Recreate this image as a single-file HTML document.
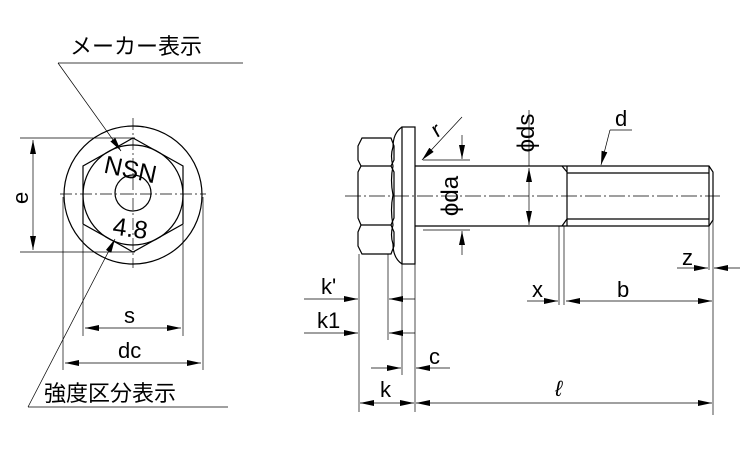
<!DOCTYPE html>
<html><head><meta charset="utf-8"><style>html,body{margin:0;padding:0;background:#fff}svg{display:block}</style></head>
<body>
<svg width="750" height="450" viewBox="0 0 750 450" xmlns="http://www.w3.org/2000/svg" font-family="Liberation Sans, Noto Sans CJK JP, sans-serif">
<defs>
<marker id="b" viewBox="0 0 14 6" refX="14" refY="3" markerWidth="14" markerHeight="6" orient="auto-start-reverse" markerUnits="userSpaceOnUse"><path d="M0,0 L14,3 L0,6z" fill="#000"/></marker>
</defs>
<g stroke="#000" fill="none" stroke-width="1.2">
<circle cx="133" cy="195" r="69"/>
<polygon points="133,138 183,166 183,224 133,252 83,224 83,166"/>
<circle cx="133" cy="195" r="50"/>
<circle cx="133" cy="193" r="18"/>
</g>
<g stroke="#000" stroke-width="0.7" fill="none">
<line x1="60" y1="194" x2="206" y2="194" stroke-dasharray="12,3,2,3"/>
<line x1="133" y1="118" x2="133" y2="268" stroke-dasharray="12,3,2,3"/>
<line x1="20" y1="138" x2="135" y2="138"/>
<line x1="20" y1="252" x2="135" y2="252"/>
<line x1="33" y1="140" x2="33" y2="250" marker-start="url(#b)" marker-end="url(#b)"/>
<line x1="83" y1="225" x2="83" y2="336"/>
<line x1="183" y1="225" x2="183" y2="336"/>
<line x1="85" y1="328" x2="181" y2="328" marker-start="url(#b)" marker-end="url(#b)"/>
<line x1="63" y1="197" x2="63" y2="370"/>
<line x1="203" y1="197" x2="203" y2="370"/>
<line x1="65" y1="363" x2="201" y2="363" marker-start="url(#b)" marker-end="url(#b)"/>
<line x1="58" y1="63" x2="243" y2="63"/>
<line x1="58" y1="63" x2="121" y2="151" marker-end="url(#b)"/>
<line x1="28" y1="407" x2="228" y2="407"/>
<line x1="28" y1="407" x2="115" y2="239" marker-end="url(#b)"/>
</g>
<g font-size="22" fill="#000">
<text x="70" y="54">メーカー表示</text>
<text x="44" y="401">強度区分表示</text>
<text x="104" y="178" font-size="25" transform="rotate(12 130 170)">NSN</text>
<text x="113" y="237" font-size="25" transform="rotate(8 132 228)">4.8</text>
<text x="12" y="204" transform="rotate(-90 20 196)">e</text>
<text x="124" y="323">s</text>
<text x="118" y="358">dc</text>
</g>
<g stroke="#000" fill="none" stroke-width="1.2">
<path d="M362,138 L391,138 L394,146 L394,160 L391,166 L394,172 L394,218 L391,225 L394,232 L394,246 L391,254 L362,254 L358,246 L358,232 L361,225 L358,218 L358,172 L361,166 L358,160 L358,146 Z"/>
<line x1="361" y1="166" x2="391" y2="166"/>
<line x1="361" y1="225" x2="391" y2="225"/>
<path d="M402,127 Q393,133 393,147 Q390,156 393,166 Q390,180 393,195 Q390,210 393,225 Q390,235 393,244 Q393,258 402,264"/>
<rect x="402" y="127" width="13" height="137"/>
<path d="M415,166 L709,166 L713,172 L713,220 L709,226 L415,226"/>
<line x1="562" y1="166" x2="567" y2="172"/>
<line x1="562" y1="226" x2="567" y2="219"/>
<line x1="567" y1="166" x2="567" y2="226"/>
<line x1="567" y1="173" x2="709" y2="173"/>
<line x1="567" y1="219" x2="709" y2="219"/>
<line x1="709" y1="166" x2="709" y2="226"/>
</g>
<g stroke="#000" stroke-width="0.7" fill="none">
<line x1="345" y1="196" x2="720" y2="196" stroke-dasharray="16,3,2,3"/>
<line x1="359" y1="254" x2="359" y2="412"/>
<line x1="388" y1="254" x2="388" y2="340"/>
<line x1="402" y1="264" x2="402" y2="375"/>
<line x1="415" y1="264" x2="415" y2="412"/>
<line x1="304" y1="299" x2="358" y2="299" marker-end="url(#b)"/>
<line x1="415" y1="299" x2="389" y2="299" marker-end="url(#b)"/>
<line x1="304" y1="333" x2="358" y2="333" marker-end="url(#b)"/>
<line x1="415" y1="333" x2="389" y2="333" marker-end="url(#b)"/>
<line x1="371" y1="368" x2="401" y2="368" marker-end="url(#b)"/>
<line x1="450" y1="368" x2="416" y2="368" marker-end="url(#b)"/>
<line x1="360" y1="403" x2="414" y2="403" marker-start="url(#b)" marker-end="url(#b)"/>
<line x1="416" y1="403" x2="712" y2="403" marker-start="url(#b)" marker-end="url(#b)"/>
<line x1="559" y1="226" x2="559" y2="305"/>
<line x1="564" y1="226" x2="564" y2="305"/>
<line x1="713" y1="212" x2="713" y2="415"/>
<line x1="709" y1="226" x2="709" y2="270"/>
<line x1="527" y1="301" x2="558" y2="301" marker-end="url(#b)"/>
<line x1="566" y1="301" x2="712" y2="301" marker-start="url(#b)" marker-end="url(#b)"/>
<line x1="677" y1="268" x2="708" y2="268" marker-end="url(#b)"/>
<line x1="740" y1="268" x2="714" y2="268" marker-end="url(#b)"/>
<line x1="423" y1="160" x2="470" y2="160"/>
<line x1="423" y1="230" x2="470" y2="230"/>
<line x1="462" y1="135" x2="462" y2="159" marker-end="url(#b)"/>
<line x1="462" y1="255" x2="462" y2="231" marker-end="url(#b)"/>
<line x1="529" y1="168" x2="529" y2="225" marker-start="url(#b)" marker-end="url(#b)"/>
<line x1="529" y1="110" x2="529" y2="166"/>
<line x1="462" y1="117" x2="422" y2="160" marker-end="url(#b)"/>
<line x1="632" y1="130" x2="610" y2="130"/>
<line x1="610" y1="130" x2="601" y2="165" marker-end="url(#b)"/>
</g>
<g font-size="22" fill="#000">
<text x="432" y="135" transform="rotate(-30 440 128)">r</text>
<text x="615" y="126">d</text>
<text x="450" y="204" font-size="24" transform="rotate(-90 450 196)" text-anchor="middle">ϕda</text>
<text x="526" y="141" font-size="24" transform="rotate(-90 526 133)" text-anchor="middle">ϕds</text>
<text x="321" y="294">k'</text>
<text x="317" y="328">k1</text>
<text x="429" y="364">c</text>
<text x="380" y="397">k</text>
<text x="555" y="396" font-style="italic">ℓ</text>
<text x="532" y="297">x</text>
<text x="617" y="297">b</text>
<text x="682" y="265">z</text>
</g>
</svg>
</body></html>
